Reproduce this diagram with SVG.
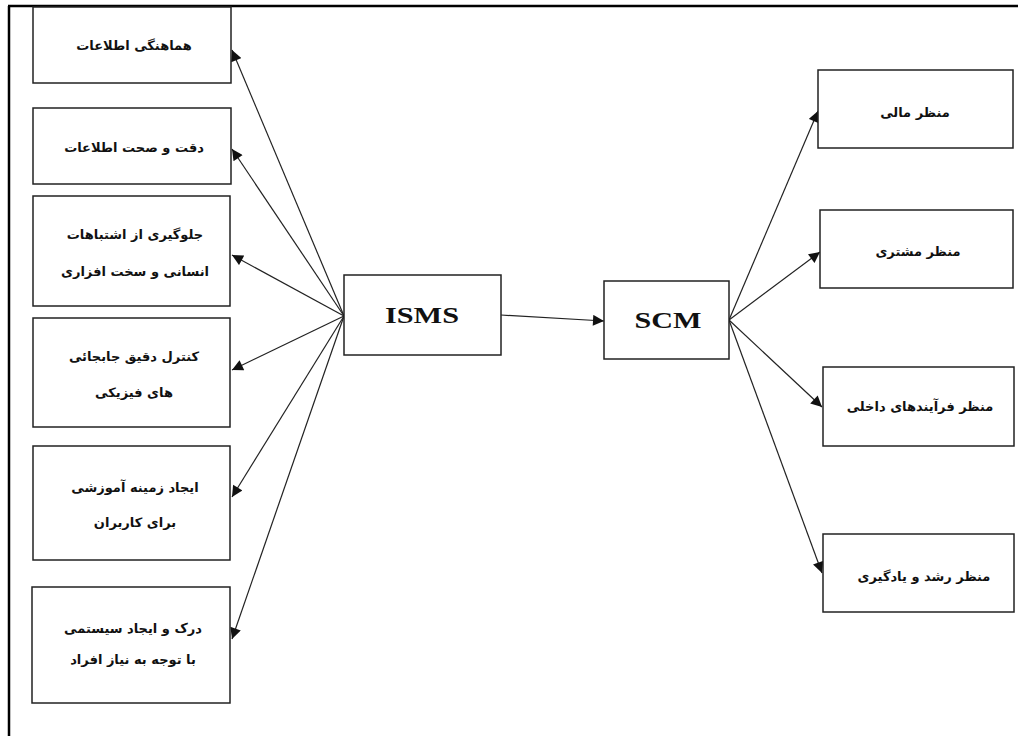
<svg xmlns="http://www.w3.org/2000/svg" width="1018" height="736" viewBox="0 0 1018 736">
<defs>
<marker id="ah" viewBox="0 0 10 10" refX="10" refY="5" markerWidth="12" markerHeight="11" markerUnits="userSpaceOnUse" orient="auto">
<path d="M0,0 L10,5 L0,10 z" fill="#111"/>
</marker>
<style>
.box{fill:#fff;stroke:#222;stroke-width:1.5}
.fa{font-family:"DejaVu Sans",sans-serif;font-size:13px;font-weight:bold;fill:#111;text-anchor:middle;letter-spacing:0.5px}
.en{font-family:"Liberation Serif",serif;font-size:24px;font-weight:bold;fill:#111;text-anchor:middle}
.con line{stroke:#222;stroke-width:1.2;marker-end:url(#ah)}
</style>
</defs>
<rect width="1018" height="736" fill="#fff"/>
<g id="frame" stroke="#000" stroke-width="2.5">
<line x1="8" y1="6" x2="1018" y2="6"/>
<line x1="9" y1="6" x2="9" y2="736"/>
</g>
<g class="con">
<line x1="344" y1="316" x2="232" y2="50"/>
<line x1="344" y1="316" x2="232" y2="149"/>
<line x1="344" y1="316" x2="232" y2="255"/>
<line x1="344" y1="316" x2="232" y2="370"/>
<line x1="344" y1="316" x2="232" y2="497"/>
<line x1="344" y1="316" x2="232" y2="639"/>
<line x1="501" y1="315" x2="604" y2="321"/>
<line x1="729" y1="320" x2="818" y2="111"/>
<line x1="729" y1="320" x2="820" y2="252"/>
<line x1="729" y1="320" x2="822" y2="407"/>
<line x1="729" y1="320" x2="822" y2="573"/>
</g>
<g id="n1"><rect class="box" x="33" y="7" width="198" height="76"/><text class="fa" x="134" y="50" direction="rtl">هماهنگی اطلاعات</text></g>
<g id="n2"><rect class="box" x="33" y="108" width="198" height="76"/><text class="fa" x="134" y="152" direction="rtl">دقت و صحت اطلاعات</text></g>
<g id="n3"><rect class="box" x="33" y="196" width="197" height="110"/><text class="fa" x="135" y="239" direction="rtl">جلوگیری از اشتباهات</text><text class="fa" x="135" y="276" direction="rtl">انسانی و سخت افزاری</text></g>
<g id="n4"><rect class="box" x="33" y="318" width="197" height="109"/><text class="fa" x="134" y="361" direction="rtl">کنترل دقیق جابجائی</text><text class="fa" x="134" y="397" direction="rtl">های فیزیکی</text></g>
<g id="n5"><rect class="box" x="33" y="446" width="197" height="114"/><text class="fa" x="135" y="492" direction="rtl">ایجاد زمینه آموزشی</text><text class="fa" x="135" y="527" direction="rtl">برای کاربران</text></g>
<g id="n6"><rect class="box" x="32" y="587" width="198" height="116"/><text class="fa" x="133" y="633" direction="rtl">درک و ایجاد سیستمی</text><text class="fa" x="133" y="664" direction="rtl">با توجه به نیاز افراد</text></g>
<g id="isms"><rect class="box" x="344" y="275" width="157" height="80"/><text class="en" x="422" y="323" textLength="74" lengthAdjust="spacingAndGlyphs">ISMS</text></g>
<g id="scm"><rect class="box" x="604" y="281" width="125" height="78"/><text class="en" x="668" y="328" textLength="67" lengthAdjust="spacingAndGlyphs">SCM</text></g>
<g id="r1"><rect class="box" x="818" y="70" width="195" height="78"/><text class="fa" x="915" y="117" direction="rtl">منظر مالی</text></g>
<g id="r2"><rect class="box" x="820" y="210" width="193" height="78"/><text class="fa" x="918" y="256" direction="rtl">منظر مشتری</text></g>
<g id="r3"><rect class="box" x="823" y="367" width="191" height="79"/><text class="fa" x="920" y="411" direction="rtl">منظر فرآیندهای داخلی</text></g>
<g id="r4"><rect class="box" x="823" y="534" width="191" height="78"/><text class="fa" x="924" y="581" direction="rtl">منظر رشد و یادگیری</text></g>
</svg>
